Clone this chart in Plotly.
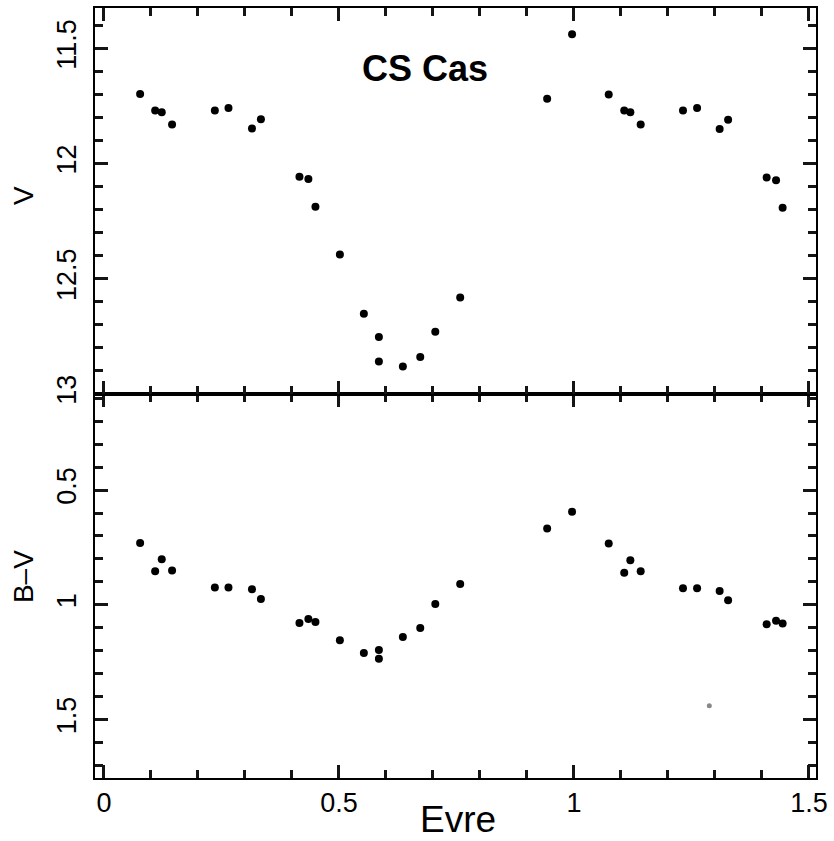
import plotly.graph_objects as go

# Phase (Evre) and V magnitude, top panel
phase_v = [0.077, 0.109, 0.123, 0.145, 0.236, 0.265, 0.315, 0.334, 0.416, 0.435,
           0.450, 0.502, 0.553, 0.585, 0.585, 0.636, 0.673, 0.705, 0.758, 0.943,
           0.996, 1.074, 1.107, 1.120, 1.142, 1.232, 1.262, 1.310, 1.328, 1.410,
           1.430, 1.444]
v_mag = [11.698, 11.769, 11.777, 11.830, 11.769, 11.759, 11.847, 11.807, 12.057, 12.067,
         12.188, 12.395, 12.652, 12.753, 12.860, 12.881, 12.840, 12.731, 12.582, 11.718,
         11.438, 11.700, 11.769, 11.777, 11.830, 11.769, 11.759, 11.850, 11.810, 12.060,
         12.072, 12.192]

# Phase and B-V colour, bottom panel
phase_bv = [0.077, 0.109, 0.123, 0.145, 0.236, 0.265, 0.315, 0.334, 0.416, 0.435,
            0.450, 0.502, 0.553, 0.585, 0.585, 0.636, 0.673, 0.705, 0.758, 0.943,
            0.996, 1.074, 1.107, 1.120, 1.142, 1.232, 1.262, 1.310, 1.328, 1.410,
            1.430, 1.444]
bv_col = [0.731, 0.854, 0.801, 0.850, 0.924, 0.924, 0.932, 0.975, 1.079, 1.062,
          1.075, 1.154, 1.210, 1.197, 1.235, 1.140, 1.101, 0.996, 0.909, 0.667,
          0.594, 0.733, 0.860, 0.806, 0.854, 0.928, 0.928, 0.940, 0.980, 1.085,
          1.069, 1.081]

# faint spot in the scan
spot_x = [1.288]
spot_y = [1.440]

FONT = "Liberation Sans, Arial, Helvetica, sans-serif"
split = 385 / 772

fig = go.Figure()
fig.add_trace(go.Scatter(x=phase_v, y=v_mag, mode="markers", marker=dict(color="black", size=8),
                         xaxis="x2", yaxis="y2", showlegend=False))
fig.add_trace(go.Scatter(x=phase_bv, y=bv_col, mode="markers", marker=dict(color="black", size=8),
                         xaxis="x", yaxis="y", showlegend=False))
fig.add_trace(go.Scatter(x=spot_x, y=spot_y, mode="markers", marker=dict(color="#888888", size=5),
                         xaxis="x", yaxis="y", showlegend=False))

font = dict(family=FONT, size=27, color="black")
TICK = "#151515"


def axis_style(**kw):
    d = dict(showline=True, linecolor="black", linewidth=2, mirror="ticks",
             ticks="inside", ticklen=13, tickwidth=3, tickcolor=TICK,
             dtick=0.5, tickfont=font, showgrid=False, zeroline=False,
             minor=dict(ticks="inside", dtick=0.1, ticklen=8, tickwidth=3, tickcolor=TICK))
    d.update(kw)
    return d


fig.update_layout(
    width=834, height=841,
    margin=dict(l=95, r=12, t=6, b=63),
    paper_bgcolor="white", plot_bgcolor="white",
    xaxis=axis_style(domain=[0, 1], anchor="y", range=[-0.019, 1.515]),
    yaxis=axis_style(domain=[0, split], anchor="x", range=[1.755, 0.081], tickangle=-90,
                     ticklabelstandoff=6),
    xaxis2=axis_style(domain=[0, 1], anchor="y2", matches="x", showticklabels=False),
    yaxis2=axis_style(domain=[split, 1], anchor="x2", range=[13.001, 11.324], tickangle=-90,
                      ticklabelstandoff=6),
)


def px_x(p):
    return (p - 95) / 727


def px_y(p):
    return (778 - p) / 772


fig.add_annotation(text="<b>CS Cas</b>", x=px_x(428), y=px_y(67), xref="paper", yref="paper",
                   showarrow=False, font=dict(family=FONT, size=36, color="black"),
                   xanchor="center", yanchor="middle")
fig.add_annotation(text="V", x=px_x(23), y=px_y(194), xref="paper", yref="paper",
                   showarrow=False, textangle=-90, font=dict(family=FONT, size=28, color="black"),
                   xanchor="center", yanchor="middle")
fig.add_annotation(text="B–V", x=px_x(23), y=px_y(576), xref="paper", yref="paper",
                   showarrow=False, textangle=-90, font=dict(family=FONT, size=28, color="black"),
                   xanchor="center", yanchor="middle")
fig.add_annotation(text="Evre", x=px_x(461), y=px_y(820), xref="paper", yref="paper",
                   showarrow=False, font=dict(family=FONT, size=37, color="black"),
                   xanchor="center", yanchor="middle")

fig.write_html("out.html")
